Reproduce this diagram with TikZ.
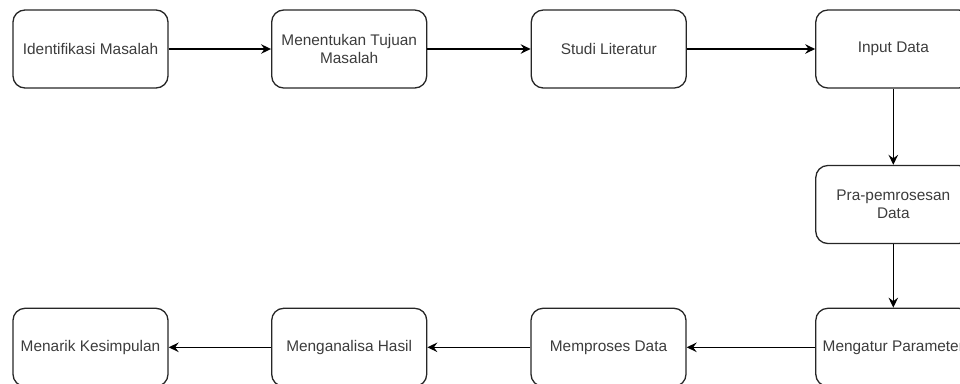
\documentclass[tikz,border=0pt]{standalone}
\usepackage{fontspec}
\setmainfont{Liberation Sans}
\usetikzlibrary{arrows.meta}
\definecolor{txtgray}{HTML}{3C3C3C}
\begin{document}
\begin{tikzpicture}[x=1bp,y=-1bp,
  box/.style={draw=black!85,line width=1.3bp,rounded corners=12bp,minimum width=155bp,minimum height=78bp,inner sep=0pt,align=center,text=txtgray,font=\fontsize{15.4bp}{18.5bp}\selectfont},
  conn/.style={draw=black,line width=1.4bp,-{Stealth[length=10bp,width=9.5bp,inset=3.5bp]}}]
\useasboundingbox (0,0) rectangle (960,383);
\clip (0,0) rectangle (960,383);
\node[box] (b1) at (90.5,49) {Identifikasi Masalah};
\node[box] (b2) at (349.2,49) {Menentukan Tujuan\\Masalah};
\node[box] (b3) at (608.8,49) {Studi Literatur};
\node[box] (b4) at (893.3,49) {Input Data};
\node[box] (b5) at (893.3,204.5) {Pra-pemrosesan\\Data};
\node[box] (b6) at (893.3,347.3) {Mengatur Parameter};
\node[box] (b7) at (608.5,347.3) {Memproses Data};
\node[box] (b8) at (349.2,347.3) {Menganalisa Hasil};
\node[box] (b9) at (90.5,347.3) {Menarik Kesimpulan};
\draw[conn] (b1) -- (b2);
\draw[conn] (b2) -- (b3);
\draw[conn] (b3) -- (b4);
\draw[conn] (b4) -- (b5);
\draw[conn] (b5) -- (b6);
\draw[conn] (b6) -- (b7);
\draw[conn] (b7) -- (b8);
\draw[conn] (b8) -- (b9);
\end{tikzpicture}
\end{document}
